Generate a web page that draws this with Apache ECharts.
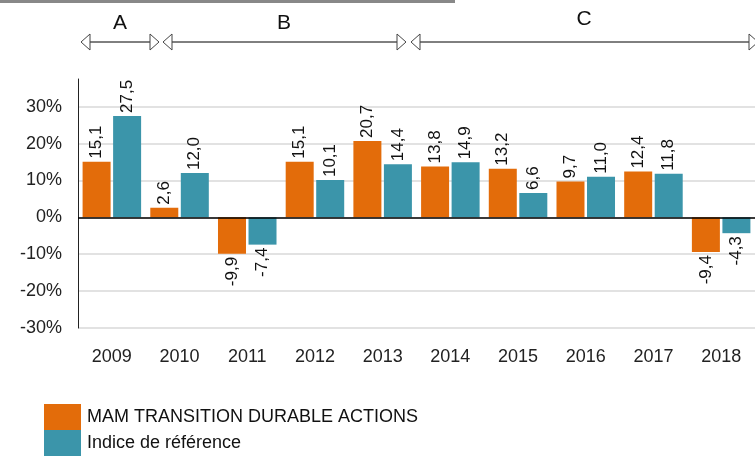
<!DOCTYPE html>
<html>
<head>
<meta charset="utf-8">
<script src="https://cdn.jsdelivr.net/npm/echarts@6/dist/echarts.min.js"></script>
<style>
  html, body { margin: 0; padding: 0; background: #fff; }
  #chart { width: 755px; height: 459px; }
</style>
</head>
<body>
<div id="chart"></div>
<script>
// années
var years = ['2009', '2010', '2011', '2012', '2013', '2014', '2015', '2016', '2017', '2018'];
// performances annuelles (%)
var fundValues = [15.1, 2.6, -9.9, 15.1, 20.7, 13.8, 13.2, 9.7, 12.4, -9.4];
var indexValues = [27.5, 12.0, -7.4, 10.1, 14.4, 14.9, 6.6, 11.0, 11.8, -4.3];
var seriesNames = ['MAM TRANSITION DURABLE ACTIONS', 'Indice de référence'];
var periodLabels = ['A', 'B', 'C'];

var FONT = '"Liberation Sans", Arial, sans-serif';

// les barres négatives ont leur étiquette en dessous
function toData(values) {
  return values.map(function (v) {
    if (v < 0) {
      return { value: v, label: { position: 'bottom', align: 'right' } };
    }
    return v;
  });
}

function fmt(p) {
  return p.value.toFixed(1).replace('.', ',');
}

// flèche double avec triangles creux
function arrow(x1, x2, y) {
  var w = 9, h = 8;
  return [
    { type: 'line', shape: { x1: x1 + w, y1: y, x2: x2 - w, y2: y }, style: { stroke: '#000', lineWidth: 1 } },
    { type: 'polygon', shape: { points: [[x1, y], [x1 + w, y - h], [x1 + w, y + h]] }, style: { fill: '#fff', stroke: '#444', lineWidth: 1 } },
    { type: 'polygon', shape: { points: [[x2, y], [x2 - w, y - h], [x2 - w, y + h]] }, style: { fill: '#fff', stroke: '#444', lineWidth: 1 } }
  ];
}

function periodText(text, x, y) {
  return { type: 'text', x: x, y: y, style: { text: text, font: '21px ' + FONT, fill: '#111', align: 'center', verticalAlign: 'middle' } };
}

var chart = echarts.init(document.getElementById('chart'));

var labelStyle = {
  show: true,
  position: 'top',
  rotate: 90,
  align: 'left',
  verticalAlign: 'middle',
  distance: 3,
  color: '#111',
  fontSize: 17,
  fontFamily: FONT,
  formatter: fmt
};

var graphics = [
  { type: 'rect', shape: { x: 0, y: 0, width: 455, height: 3 }, style: { fill: '#888' } }
]
  .concat(arrow(81, 159, 42))
  .concat(arrow(163, 406, 42))
  .concat(arrow(411, 758, 42))
  .concat([
    periodText(periodLabels[0], 120, 23),
    periodText(periodLabels[1], 284, 23),
    periodText(periodLabels[2], 584, 19)
  ]);

var option = {
  animation: false,
  textStyle: { fontFamily: FONT },
  grid: { left: 78, top: 79, bottom: 131, right: -6, containLabel: false },
  legend: {
    orient: 'vertical',
    left: 44,
    top: 404,
    padding: 0,
    itemWidth: 37,
    itemHeight: 26,
    itemGap: 0,
    icon: 'rect',
    textStyle: { fontSize: 18, color: '#111', fontFamily: FONT, padding: [7, 0, 0, 1] },
    data: seriesNames
  },
  xAxis: {
    type: 'category',
    data: years,
    axisLine: { show: false, onZero: false },
    axisTick: { show: false },
    axisLabel: { margin: 20, fontSize: 18, color: '#222', fontFamily: FONT }
  },
  yAxis: {
    type: 'value',
    min: -30,
    max: 37.5,
    interval: 10,
    axisLine: { show: true, lineStyle: { color: '#222', width: 1 } },
    axisTick: { show: false },
    axisLabel: {
      margin: 16,
      fontSize: 18,
      color: '#222',
      fontFamily: FONT,
      showMaxLabel: false,
      formatter: function (v) { return v > 31 ? '' : v + '%'; }
    },
    splitLine: {
      lineStyle: {
        color: ['#d9d9d9', '#d9d9d9', '#d9d9d9', '#d9d9d9', '#d9d9d9', '#d9d9d9', '#d9d9d9', 'rgba(0,0,0,0)'],
        width: 1.5
      }
    }
  },
  series: [
    {
      name: seriesNames[0],
      type: 'bar',
      data: toData(fundValues),
      barWidth: 28,
      barGap: '9%',
      itemStyle: { color: '#E36C0A' },
      label: labelStyle,
      markLine: {
        silent: true,
        symbol: 'none',
        label: { show: false },
        lineStyle: { color: '#000', type: 'solid', width: 1.5 },
        data: [{ yAxis: 0 }]
      }
    },
    {
      name: seriesNames[1],
      type: 'bar',
      data: toData(indexValues),
      barWidth: 28,
      itemStyle: { color: '#3B95AA' },
      label: labelStyle
    }
  ],
  graphic: graphics
};

chart.setOption(option);
</script>
</body>
</html>
